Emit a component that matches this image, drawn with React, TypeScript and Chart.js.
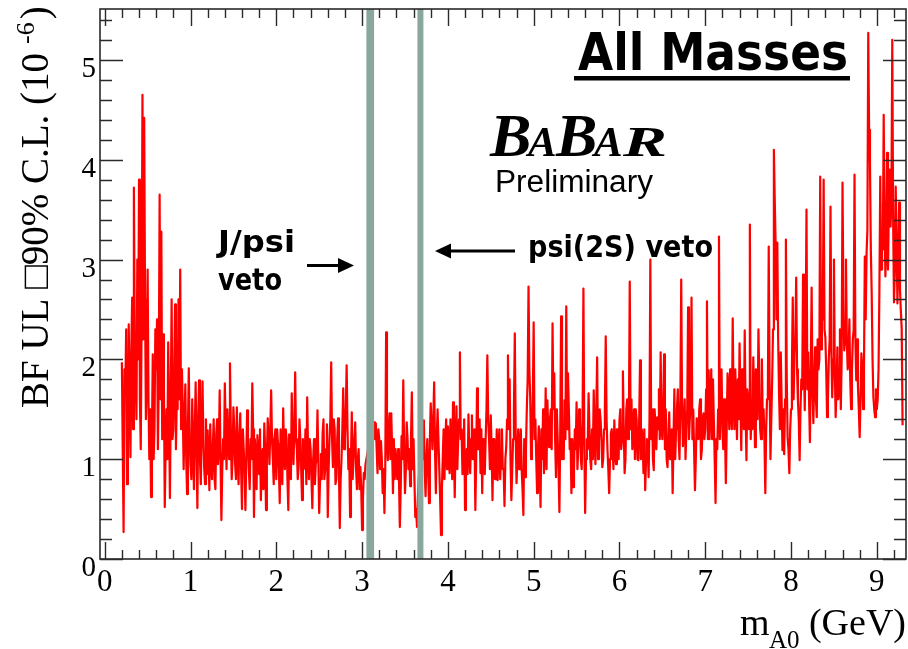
import React, { useEffect, useRef } from "react";
import { Chart, registerables } from "chart.js";

Chart.register(...registerables);

// ---- data: 90% C.L. upper limit on BF (units of 1e-6) vs m_A0.
// Main scan points every 0.02 GeV from 0.20 GeV; the "half" arrays hold the
// points read between them (0.21, 0.23, ... GeV).
const massStart = 0.2;
const massStep = 0.02;

// 0.20 – 0.98 GeV
const ulA = [
  1.97, 0.27, 1.65, 0.75, 2.35, 1.02, 2.62, 3.72, 1.85, 3.0,
  3.8, 1.1, 4.65, 4.42, 1.4, 2.9, 1.0, 0.62, 2.05, 1.3,
  1.9, 1.1, 3.65, 3.28, 2.25, 0.52, 1.5, 2.17, 0.61, 2.6,
  1.3, 2.55, 1.6, 2.6, 2.9, 1.9, 0.9, 1.75, 0.65, 1.91,
];
const ulAHalf = [
  1.1, 1.9, 2.3, 1.1, 1.6, 2.1, 1.3, 2.2, 1.4, 2.0,
  1.6, 2.4, 2.2, 2.6, 1.8, 1.6, 1.5, 1.2, 1.0, 2.3,
  2.4, 1.8, 1.6, 1.2, 1.7, 1.1, 1.0, 1.5, 1.6, 1.2,
  1.9, 1.1, 1.5, 1.6, 1.3, 1.5, 1.4, 1.0, 1.3, 1.2,
];
// 1.00 – 1.98 GeV
const ulB = [
  0.95, 1.6, 0.7, 1.77, 0.51, 1.79, 0.75, 1.78, 0.9, 1.4,
  1.29, 0.69, 1.0, 1.12, 0.8, 1.25, 0.95, 1.69, 0.39, 1.2,
  1.76, 0.9, 1.25, 1.96, 0.8, 1.52, 0.95, 1.52, 0.75, 1.46,
  0.5, 1.1, 0.49, 1.49, 0.9, 1.2, 1.76, 0.42, 1.0, 1.24,
  0.85, 0.59, 1.1, 1.36, 0.49, 1.41, 0.95, 1.69, 1.0, 1.22,
];
const ulBHalf = [
  0.8, 1.2, 1.3, 1.1, 1.4, 1.0, 1.3, 1.2, 0.75, 0.85,
  1.0, 1.35, 0.8, 1.4, 0.7, 1.4, 1.1, 1.0, 0.9, 1.0,
  1.3, 1.5, 1.0, 1.3, 1.0, 1.3, 0.8, 1.1, 1.2, 0.9,
  1.3, 0.9, 1.0, 1.2, 0.7, 1.0, 1.3, 1.2, 0.7, 1.1,
  1.3, 0.9, 0.7, 1.1, 1.0, 1.2, 1.3, 1.2, 0.75, 1.3,
];
// 2.00 – 2.98 GeV
const ulC = [
  0.8, 1.15, 0.56, 1.0, 1.51, 0.9, 1.2, 0.49, 1.1, 1.66,
  0.95, 1.87, 1.1, 0.92, 1.2, 0.59, 0.9, 1.3, 1.62, 0.8,
  1.1, 0.51, 1.2, 0.95, 1.49, 0.46, 1.05, 1.26, 0.8, 1.1,
  0.42, 1.2, 1.97, 0.92, 1.3, 0.8, 1.41, 0.31, 1.0, 1.71,
  1.2, 1.94, 0.9, 0.42, 1.47, 1.0, 1.37, 0.7, 1.1, 0.92,
];
const ulCHalf = [
  1.3, 0.9, 1.3, 0.75, 1.1, 1.3, 0.8, 1.25, 0.8, 1.2,
  1.3, 1.2, 0.8, 1.4, 0.9, 1.2, 1.0, 0.75, 1.1, 1.2,
  0.8, 1.0, 0.75, 1.0, 1.0, 0.8, 0.8, 1.4, 0.9, 1.35,
  0.9, 1.4, 1.2, 1.4, 0.75, 1.2, 0.9, 0.8, 1.3, 1.1,
  1.5, 1.3, 1.1, 1.0, 0.8, 1.2, 0.9, 1.0, 0.7, 0.7,
];
// 3.00 – 3.98 GeV
const ulD = [
  0.29, 0.86, 0.95, 1.05, 1.15, 1.25, 1.3, 1.37, 1.36, 0.86,
  1.2, 1.18, 0.66, 0.46, 2.27, 0.99, 1.46, 1.46, 0.66, 0.8,
  0.92, 1.1, 0.32, 1.23, 1.79, 0.66, 1.37, 0.9, 0.73, 1.67,
  1.2, 0.42, 0.32, 0.8, 1.0, 1.1, 1.39, 0.63, 1.2, 0.56,
  1.56, 1.1, 1.77, 0.66, 1.5, 0.9, 0.24, 1.0, 0.8, 1.4,
];
const ulDHalf = [
  0.6, 0.8, 1.0, 1.1, 1.2, 1.3, 1.35, 1.2, 1.1, 1.3,
  0.9, 1.0, 0.9, 0.9, 1.2, 1.3, 1.0, 1.1, 1.2, 1.1,
  0.8, 0.8, 0.7, 1.0, 1.1, 0.9, 1.2, 1.1, 1.2, 0.9,
  0.8, 0.5, 0.6, 0.9, 1.1, 1.0, 0.9, 1.0, 0.9, 1.2,
  1.3, 1.4, 1.1, 1.2, 1.2, 0.6, 0.7, 1.3, 1.2, 0.9,
];
// 4.00 – 4.98 GeV
const ulE = [
  1.33, 0.86, 1.1, 1.57, 0.62, 1.53, 1.2, 2.07, 1.3, 1.0,
  0.49, 1.1, 1.45, 0.86, 1.44, 1.0, 0.49, 1.71, 1.1, 0.86,
  0.66, 1.0, 1.2, 2.04, 1.2, 1.44, 0.59, 1.2, 0.99, 0.79,
  1.3, 1.06, 0.9, 0.53, 1.12, 2.04, 1.8, 0.59, 1.2, 2.26,
  0.76, 1.3, 1.12, 0.9, 0.44, 0.82, 1.5, 2.73, 1.6, 1.19,
];
const ulEHalf = [
  1.1, 1.4, 0.8, 1.1, 1.2, 0.9, 1.4, 1.2, 0.85, 1.4,
  0.9, 0.85, 1.1, 1.2, 1.0, 1.3, 1.0, 1.1, 1.4, 1.3,
  1.2, 0.85, 1.5, 1.4, 0.9, 1.1, 1.2, 0.8, 1.3, 1.1,
  0.8, 1.3, 0.9, 1.0, 1.4, 1.3, 1.0, 0.9, 1.5, 1.3,
  1.0, 0.9, 1.3, 0.7, 1.2, 1.1, 1.8, 1.9, 1.0, 1.6,
];
// 5.00 – 5.98 GeV
const ulF = [
  2.37, 1.4, 0.66, 1.33, 0.52, 1.0, 0.86, 1.71, 1.59, 1.12,
  1.5, 2.36, 1.86, 0.82, 1.2, 0.47, 2.43, 1.3, 1.59, 2.53,
  1.86, 1.1, 0.66, 0.72, 1.3, 1.57, 1.12, 1.4, 0.9, 2.71,
  0.46, 1.2, 1.66, 1.0, 1.3, 1.69, 0.95, 2.02, 1.16, 1.4,
  0.92, 1.3, 2.23, 1.1, 0.66, 1.26, 1.1, 1.39, 0.95, 1.3,
];
const ulFHalf = [
  1.2, 1.0, 1.1, 1.0, 1.3, 1.5, 1.1, 0.9, 1.3, 1.4,
  1.1, 1.5, 1.2, 1.5, 0.9, 1.3, 1.0, 1.0, 1.2, 1.3,
  1.5, 1.2, 1.2, 0.9, 1.1, 0.9, 1.5, 1.0, 1.4, 1.2,
  1.0, 1.1, 1.3, 0.9, 1.0, 1.2, 1.5, 1.0, 1.5, 1.2,
  1.0, 1.5, 1.4, 0.9, 1.0, 1.3, 0.9, 1.1, 1.3, 1.0,
];
// 6.00 – 6.98 GeV
const ulG = [
  1.39, 1.1, 1.88, 0.86, 1.5, 1.2, 2.78, 1.6, 1.26, 1.0,
  1.4, 0.99, 1.99, 1.3, 0.86, 0.69, 1.2, 0.82, 3.0, 1.5,
  0.89, 1.3, 1.42, 1.7, 2.07, 1.2, 2.05, 1.5, 0.92, 1.47,
  1.2, 0.66, 1.7, 1.3, 1.7, 1.0, 2.8, 1.13, 1.6, 1.3,
  2.52, 1.4, 2.62, 1.5, 0.69, 1.41, 1.2, 1.6, 1.09, 1.46,
];
const ulGHalf = [
  1.5, 1.2, 1.3, 1.0, 1.6, 1.4, 1.3, 1.1, 1.5, 1.5,
  1.0, 1.4, 1.0, 1.2, 1.3, 1.0, 1.1, 1.4, 1.2, 1.0,
  1.5, 1.1, 1.3, 1.2, 1.3, 1.5, 1.1, 1.0, 1.2, 1.0,
  1.3, 1.2, 1.0, 1.5, 1.2, 1.6, 1.5, 1.4, 1.0, 1.5,
  1.2, 1.6, 1.2, 1.1, 1.0, 1.3, 1.5, 1.0, 1.4, 1.2,
];
// 7.00 – 7.98 GeV
const ulH = [
  1.3, 2.58, 1.89, 1.55, 1.2, 1.4, 0.56, 1.1, 3.23, 1.7,
  1.29, 1.6, 0.76, 1.86, 1.3, 1.47, 2.41, 1.3, 1.56, 1.8,
  2.16, 1.09, 1.5, 2.29, 0.99, 1.6, 3.35, 1.5, 2.02, 1.12,
  1.6, 2.3, 1.3, 2.0, 1.5, 0.66, 1.6, 3.13, 1.0, 1.8,
  4.1, 3.17, 3.17, 1.66, 2.07, 1.09, 1.05, 3.2, 1.22, 0.86,
];
const ulHHalf = [
  1.7, 1.2, 1.2, 1.9, 1.8, 1.0, 1.2, 1.5, 1.2, 1.9,
  1.1, 1.3, 1.3, 1.7, 1.9, 1.3, 1.6, 1.9, 1.2, 1.4,
  1.6, 1.9, 1.3, 1.5, 1.7, 1.3, 1.2, 1.3, 1.6, 1.9,
  1.4, 1.8, 1.2, 1.4, 1.2, 1.3, 1.7, 1.8, 1.4, 2.3,
  3.6, 2.4, 2.2, 1.3, 1.6, 1.5, 1.6, 1.8, 1.1, 1.3,
];
// 8.00 – 8.98 GeV
const ulI = [
  1.5, 2.62, 2.07, 2.82, 1.59, 0.99, 1.8, 2.85, 1.49, 3.5,
  2.07, 1.17, 2.72, 1.36, 2.12, 1.42, 1.9, 3.83, 2.6, 3.8,
  2.22, 1.42, 2.0, 3.53, 1.62, 3.0, 1.42, 2.12, 1.7, 1.5,
  3.77, 2.09, 3.0, 1.9, 2.4, 1.5, 2.2, 3.85, 1.79, 1.73,
  1.22, 2.06, 1.5, 3.03, 3.05, 5.27, 3.97, 2.67, 1.62, 1.42,
];
const ulIHalf = [
  1.9, 1.6, 2.2, 1.9, 1.4, 1.5, 1.7, 2.0, 2.2, 1.7,
  1.6, 1.9, 1.7, 1.8, 1.6, 2.2, 2.0, 2.1, 2.4, 2.3,
  1.9, 1.6, 2.2, 2.1, 2.0, 1.9, 1.7, 1.6, 2.3, 2.0,
  2.6, 2.2, 2.2, 2.0, 1.8, 1.9, 2.3, 2.2, 2.2, 1.5,
  1.6, 1.9, 1.9, 2.4, 3.3, 4.3, 3.1, 2.0, 1.5, 1.7,
];
// 9.00 – 9.30 GeV
const ulJ = [
  1.5, 1.9, 3.83, 3.27, 4.45, 2.83, 4.07, 3.5, 3.33, 5.2,
  2.57, 3.73, 2.56, 3.57, 2.49, 1.34,
];
const ulJHalf = [
  1.6, 2.7, 2.9, 3.1, 3.4, 3.2, 2.9, 3.9, 3.6, 3.4,
  2.9, 3.2, 3.0, 2.7, 2.3,
];

// veto regions (GeV)
const vetoBands: [number, number][] = [
  [3.05, 3.14],
  [3.645, 3.715],
];

// axes
const xMin = -0.055;
const xMax = 9.34;
const yMin = 0;
const yMax = 5.51;
const xTickLabels = ["0", "1", "2", "3", "4", "5", "6", "7", "8", "9"];
const yTickLabels = ["0", "1", "2", "3", "4", "5"];
const minorStep = 0.2;

const LINE_RED = "#ff0000";
const VETO_COLOR = "#89a79d";
const AXIS_COLOR = "#2a2a2a";

function fitText(ctx: CanvasRenderingContext2D, text: string, x: number, y: number, width: number, font: string) {
  ctx.save();
  ctx.font = font;
  ctx.textAlign = "left";
  ctx.textBaseline = "alphabetic";
  const w = ctx.measureText(text).width;
  ctx.translate(x, y);
  ctx.scale(width / w, 1);
  ctx.fillText(text, 0, 0);
  ctx.restore();
}

function arrow(ctx: CanvasRenderingContext2D, x0: number, x1: number, y: number) {
  const dir = x1 > x0 ? 1 : -1;
  const head = 16;
  ctx.save();
  ctx.strokeStyle = "#000";
  ctx.fillStyle = "#000";
  ctx.lineWidth = 3;
  ctx.beginPath();
  ctx.moveTo(x0, y);
  ctx.lineTo(x1 - dir * head, y);
  ctx.stroke();
  ctx.beginPath();
  ctx.moveTo(x1, y);
  ctx.lineTo(x1 - dir * head, y - 7.5);
  ctx.lineTo(x1 - dir * head, y + 7.5);
  ctx.closePath();
  ctx.fill();
  ctx.restore();
}

const decor = {
  id: "decor",
  afterDatasetsDraw(chart: any) {
    const { ctx, chartArea: ca } = chart;
    const xs = chart.scales.x;
    const ys = chart.scales.y;
    ctx.save();

    // veto bands
    ctx.fillStyle = VETO_COLOR;
    for (const [a, b] of vetoBands) {
      const x1 = xs.getPixelForValue(a);
      const x2 = xs.getPixelForValue(b);
      ctx.fillRect(x1, ca.top, x2 - x1, ca.bottom - ca.top);
    }

    // frame
    ctx.strokeStyle = AXIS_COLOR;
    ctx.lineWidth = 1.6;
    ctx.strokeRect(ca.left, ca.top, ca.right - ca.left, ca.bottom - ca.top);

    // x ticks (bottom + top, inward)
    ctx.lineWidth = 1.4;
    ctx.beginPath();
    for (let i = 0; i * minorStep <= xMax + 1e-9; i++) {
      const v = i * minorStep;
      const px = Math.round(xs.getPixelForValue(v)) + 0.5;
      const major = i % 5 === 0;
      const len = major ? 17 : 9;
      ctx.moveTo(px, ca.bottom);
      ctx.lineTo(px, ca.bottom - len);
      ctx.moveTo(px, ca.top);
      ctx.lineTo(px, ca.top + len);
    }
    // y ticks (left + right, inward)
    for (let i = 0; i * minorStep <= yMax + 1e-9; i++) {
      const v = i * minorStep;
      const py = Math.round(ys.getPixelForValue(v)) + 0.5;
      const major = i % 5 === 0;
      const len = major ? 23 : 12;
      ctx.moveTo(ca.left, py);
      ctx.lineTo(ca.left + len, py);
      ctx.moveTo(ca.right, py);
      ctx.lineTo(ca.right - len, py);
    }
    ctx.stroke();

    // tick labels
    ctx.fillStyle = "#000";
    ctx.font = "31px 'Liberation Serif'";
    ctx.textAlign = "center";
    ctx.textBaseline = "alphabetic";
    xTickLabels.forEach((t, i) => {
      ctx.fillText(t, xs.getPixelForValue(i), ca.bottom + 32);
    });
    ctx.font = "29px 'Liberation Serif'";
    ctx.textAlign = "right";
    yTickLabels.forEach((t, i) => {
      ctx.fillText(t, ca.left - 4, ys.getPixelForValue(i) + 17);
    });

    // x-axis title
    ctx.textAlign = "left";
    ctx.font = "38px 'Liberation Serif'";
    ctx.fillText("m", 740, 635);
    ctx.font = "25px 'Liberation Serif'";
    ctx.fillText("A0", 769, 648);
    ctx.textAlign = "right";
    ctx.font = "38px 'Liberation Serif'";
    ctx.fillText("(GeV)", 906, 635);

    // y-axis title (rotated)
    ctx.save();
    ctx.translate(48, 408);
    ctx.rotate(-Math.PI / 2);
    ctx.textAlign = "left";
    ctx.font = "39px 'Liberation Serif'";
    const main = "BF UL \u25A190% C.L. (10";
    ctx.fillText(main, 0, 0);
    const w1 = ctx.measureText(main).width;
    ctx.font = "26px 'Liberation Serif'";
    ctx.fillText("-6", w1 + 9, -14);
    const w2 = ctx.measureText("-6").width;
    ctx.font = "39px 'Liberation Serif'";
    ctx.fillText(")", w1 + 9 + w2 + 3, 0);
    ctx.restore();

    // "All Masses"
    ctx.fillStyle = "#000";
    fitText(ctx, "All Masses", 578, 70, 270, "bold 52px 'DejaVu Sans'");
    ctx.fillRect(574, 76, 276, 4.5);

    // BaBar logo
    ctx.textAlign = "left";
    ctx.font = "bold italic 62px 'Liberation Serif'";
    ctx.fillText("B", 490, 156);
    ctx.font = "bold italic 43px 'Liberation Serif'";
    ctx.fillText("A", 528, 156);
    ctx.font = "bold italic 62px 'Liberation Serif'";
    ctx.fillText("B", 556, 156);
    ctx.font = "bold italic 43px 'Liberation Serif'";
    ctx.fillText("A", 594, 156);
    fitText(ctx, "R", 623, 156, 44, "bold italic 43px 'Liberation Serif'");

    fitText(ctx, "Preliminary", 495, 192, 158, "31px 'Liberation Sans'");

    // veto annotations
    fitText(ctx, "J/psi", 218, 252, 77, "bold 30px 'DejaVu Sans'");
    fitText(ctx, "veto", 218, 290, 64, "bold 30px 'DejaVu Sans'");
    arrow(ctx, 307, 354, 265.5);
    fitText(ctx, "psi(2S) veto", 528, 257, 185, "bold 30px 'DejaVu Sans'");
    arrow(ctx, 515, 435, 251);

    ctx.restore();
  },
};

export default function App() {
  const ref = useRef<HTMLCanvasElement | null>(null);
  useEffect(() => {
    document.body.style.margin = "0";
    const main = [...ulA, ...ulB, ...ulC, ...ulD, ...ulE, ...ulF, ...ulG, ...ulH, ...ulI, ...ulJ];
    const half = [
      ...ulAHalf, ...ulBHalf, ...ulCHalf, ...ulDHalf, ...ulEHalf,
      ...ulFHalf, ...ulGHalf, ...ulHHalf, ...ulIHalf, ...ulJHalf,
    ];
    const points: { x: number; y: number }[] = [];
    main.forEach((v, i) => {
      points.push({ x: +(massStart + i * massStep).toFixed(3), y: v });
      if (i < half.length) {
        points.push({ x: +(massStart + i * massStep + massStep / 2).toFixed(3), y: half[i] });
      }
    });
    const chart = new Chart(ref.current as HTMLCanvasElement, {
      type: "line",
      data: {
        datasets: [
          {
            data: points,
            borderColor: LINE_RED,
            borderWidth: 2.2,
            pointRadius: 0,
            tension: 0,
            fill: false,
            borderJoinStyle: "round",
          } as any,
        ],
      },
      options: {
        animation: false,
        responsive: false,
        devicePixelRatio: 1,
        layout: { padding: { left: 100, top: 9, right: 2, bottom: 90 } },
        plugins: { legend: { display: false }, tooltip: { enabled: false } },
        scales: {
          x: { type: "linear", min: xMin, max: xMax, display: false },
          y: { type: "linear", min: yMin, max: yMax, display: false },
        },
      },
      plugins: [decor],
    });
    return () => chart.destroy();
  }, []);
  return <canvas ref={ref} width={908} height={649} style={{ display: "block" }} />;
}
